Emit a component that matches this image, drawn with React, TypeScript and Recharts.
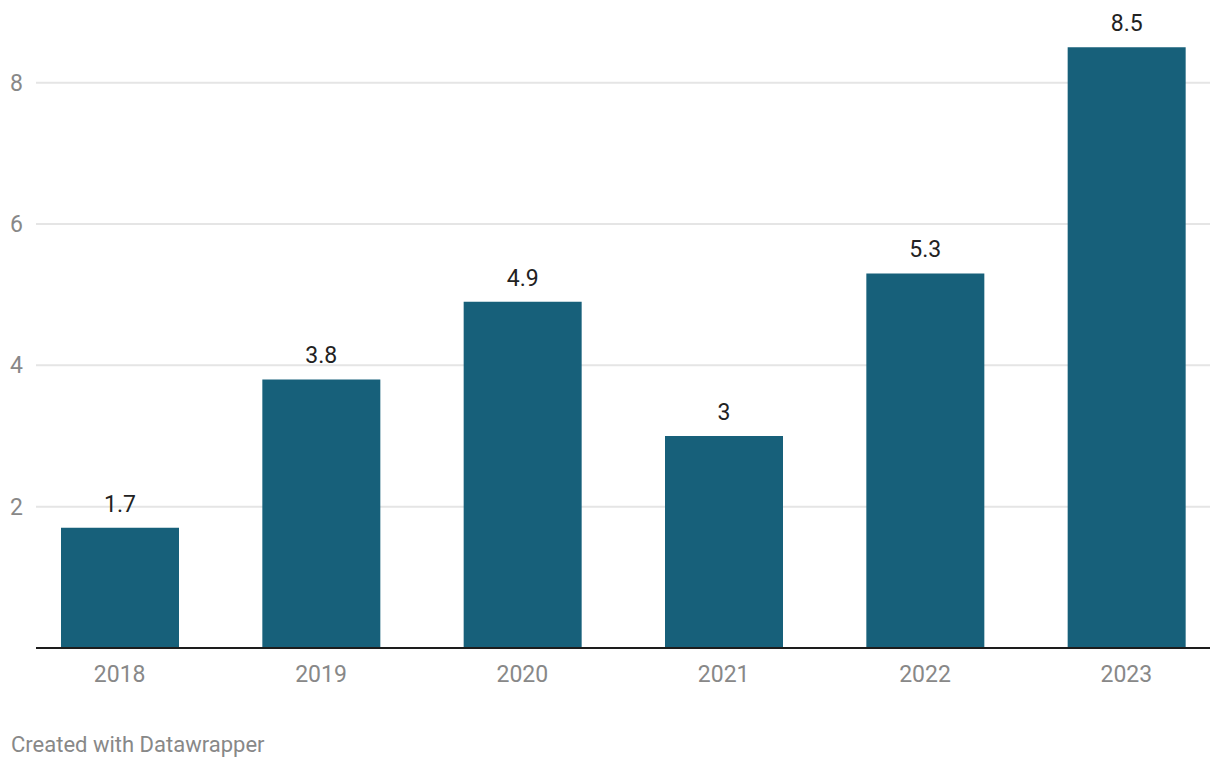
import { BarChart, Bar, XAxis, YAxis, CartesianGrid, LabelList } from 'recharts';

const years = ['2018', '2019', '2020', '2021', '2022', '2023'];
const values = [1.7, 3.8, 4.9, 3, 5.3, 8.5];
const yTicks = [2, 4, 6, 8];

const data = years.map((year, i) => ({ year, value: values[i] }));

const FONT = 'Roboto, sans-serif';

function XTick({ x, y, payload }: any) {
  return (
    <text x={x} y={y} dy={34} textAnchor="middle" fill="#888" fontSize={23} fontFamily={FONT}>
      {payload.value}
    </text>
  );
}

function YTick({ y, payload }: any) {
  return (
    <text x={10} y={y} dy={8} textAnchor="start" fill="#888" fontSize={23} fontFamily={FONT}>
      {payload.value}
    </text>
  );
}

function ValueLabel({ x, y, width, value }: any) {
  return (
    <text x={x + width / 2} y={y - 16} textAnchor="middle" fill="#222" fontSize={23} fontFamily={FONT}>
      {value}
    </text>
  );
}

export default function App() {
  return (
    <div style={{ position: 'absolute', left: 0, top: 0, width: 1220, height: 770, background: '#fff' }}>
      <BarChart
        width={1220}
        height={700}
        data={data}
        margin={{ top: 12, right: 10, bottom: 0, left: 0 }}
      >
        <CartesianGrid vertical={false} stroke="#e5e5e5" strokeWidth={2} syncWithTicks />
        <XAxis
          dataKey="year"
          height={52}
          padding={{ left: -17, right: -17 }}
          tickSize={0}
          tickMargin={0}
          tickLine={false}
          axisLine={{ stroke: '#1d1d1d', strokeWidth: 2 }}
          tick={<XTick />}
        />
        <YAxis
          width={36}
          domain={[0, 9]}
          ticks={yTicks}
          tickSize={0}
          tickLine={false}
          axisLine={false}
          tick={<YTick />}
        />
        <Bar dataKey="value" fill="#17607a" barSize={118} isAnimationActive={false}>
          <LabelList dataKey="value" content={<ValueLabel />} />
        </Bar>
      </BarChart>
      <div
        style={{
          position: 'absolute',
          left: 11,
          top: 732,
          fontFamily: FONT,
          fontSize: 22,
          color: '#888',
        }}
      >
        Created with Datawrapper
      </div>
    </div>
  );
}
